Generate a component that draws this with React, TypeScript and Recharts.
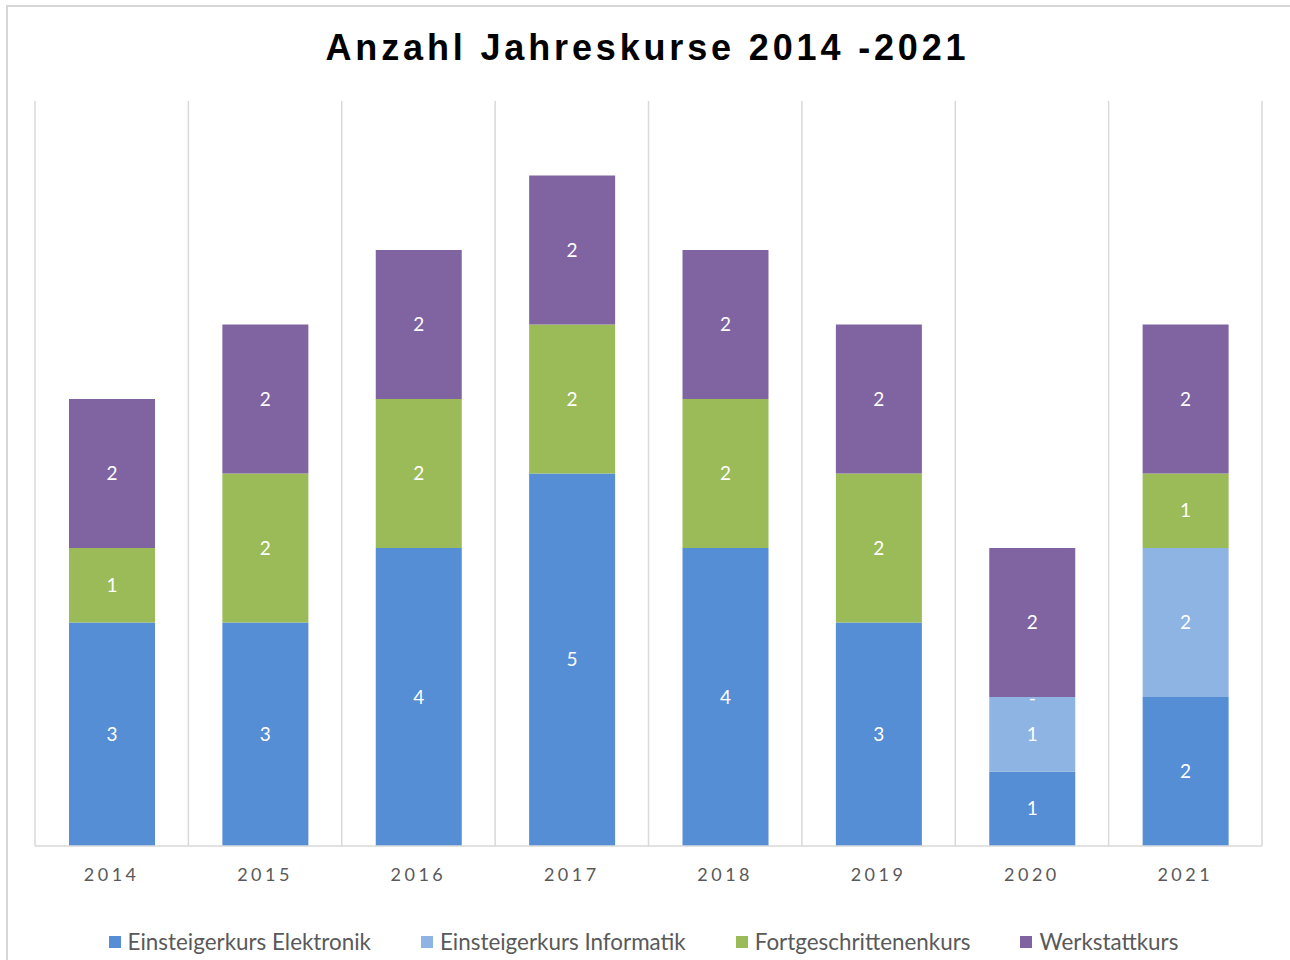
import { Bar, BarChart, CartesianGrid, LabelList, Legend, XAxis, YAxis } from "recharts";

const years = ["2014", "2015", "2016", "2017", "2018", "2019", "2020", "2021"];
const elektronik = [3, 3, 4, 5, 4, 3, 1, 2];
const informatik = [null, null, null, null, null, null, 1, 2];
const fortgeschritten = [1, 2, 2, 2, 2, 2, 0, 1];
const werkstatt = [2, 2, 2, 2, 2, 2, 2, 2];

const SERIES = [
  { key: "elektronik", name: "Einsteigerkurs Elektronik", color: "#558ED5" },
  { key: "informatik", name: "Einsteigerkurs Informatik", color: "#8EB4E3" },
  { key: "fortgeschritten", name: "Fortgeschrittenenkurs", color: "#9BBB59" },
  { key: "werkstatt", name: "Werkstattkurs", color: "#8064A2" },
];

const data = years.map((year, i) => ({
  year,
  elektronik: elektronik[i],
  informatik: informatik[i],
  fortgeschritten: fortgeschritten[i],
  werkstatt: werkstatt[i],
}));

const FONT = "Lato, 'Open Sans', sans-serif";

function labelFormat(v: unknown) {
  if (v === null || v === undefined || v === 0) return "";
  return String(v);
}

// the zero "Fortgeschrittenenkurs" segment (2020) shows a "-" right under the next bar
function ZeroDash(props: any) {
  const { x, y, width, height, index } = props;
  if (fortgeschritten[index] !== 0) return null;
  return (
    <text
      x={x + width / 2}
      y={y + height + 3}
      textAnchor="middle"
      dominantBaseline="middle"
      fill="#fff"
      fontSize={19}
      fontFamily={FONT}
    >
      -
    </text>
  );
}

function LegendContent() {
  return (
    <div
      style={{
        display: "flex",
        justifyContent: "center",
        gap: 50,
        height: 28,
        lineHeight: "28px",
        alignItems: "center",
        paddingRight: 10,
        fontFamily: FONT,
        fontSize: 22.4,
        color: "#595959",
        whiteSpace: "nowrap",
      }}
    >
      {SERIES.map((s) => (
        <div key={s.key} style={{ display: "flex", alignItems: "center", gap: 7 }}>
          <span style={{ width: 12, height: 12, background: s.color, display: "inline-block" }} />
          <span>{s.name}</span>
        </div>
      ))}
    </div>
  );
}

function gridBoundaries({ offset }: any) {
  const step = offset.width / years.length;
  return Array.from({ length: years.length + 1 }, (_, i) => offset.left + i * step);
}

export default function App() {
  return (
    <div style={{ position: "fixed", left: 0, top: 0, width: 1290, height: 960, overflow: "hidden", background: "#fff" }}>
      <div
        style={{
          position: "absolute",
          left: 6,
          top: 5,
          width: 1320,
          height: 1000,
          borderTop: "2px solid #d6d6d6",
          borderLeft: "2px solid #d6d6d6",
        }}
      />
      <div
        style={{
          position: "absolute",
          left: 0,
          top: 27,
          width: 1295,
          textAlign: "center",
          fontFamily: "'Liberation Sans', Arial, sans-serif",
          fontWeight: 700,
          fontSize: 36,
          letterSpacing: 3.85,
          color: "#000",
        }}
      >
        Anzahl Jahreskurse 2014 -2021
      </div>
      <div style={{ position: "absolute", left: 0, top: 0 }}>
        <BarChart width={1290} height={960} data={data} margin={{ top: 101, right: 28, left: 35, bottom: 4 }}>
          <CartesianGrid
            horizontal={false}
            stroke="#d9d9d9"
            strokeWidth={1.5}
            verticalCoordinatesGenerator={gridBoundaries}
          />
          <XAxis
            dataKey="year"
            axisLine={{ stroke: "#d9d9d9", strokeWidth: 1.5 }}
            tickLine={false}
            height={82}
            tickMargin={16}
            tick={{ fill: "#595959", fontSize: 18, fontFamily: FONT, letterSpacing: 3.5 }}
          />
          <YAxis hide domain={[0, 10]} />
          <Legend verticalAlign="bottom" content={<LegendContent />} />
          {SERIES.map((s) => (
            <Bar key={s.key} dataKey={s.key} name={s.name} stackId="a" fill={s.color} barSize={86} isAnimationActive={false}>
              <LabelList
                dataKey={s.key}
                position="center"
                fill="#fff"
                fontSize={19}
                fontFamily={FONT}
                formatter={labelFormat}
              />
              {s.key === "werkstatt" && <LabelList dataKey={s.key} content={<ZeroDash />} />}
            </Bar>
          ))}
        </BarChart>
      </div>
    </div>
  );
}
